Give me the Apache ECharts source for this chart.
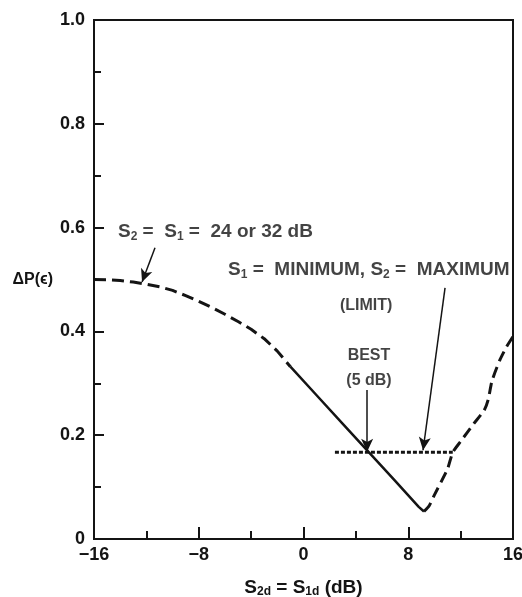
<!DOCTYPE html>
<html><head><meta charset="utf-8">
<script src="https://cdn.jsdelivr.net/npm/echarts@6/dist/echarts.min.js"></script>
<style>html,body{margin:0;padding:0;background:#fff}#c{width:522px;height:597px}</style>
</head><body><div id="c"></div>
<script>
// ---- data ----
const dashedLeftX = [-16,-15,-14,-13,-12,-11,-10,-9,-8,-7,-6,-5,-4,-3,-2,-1];
const dashedLeftY = [0.500,0.4995,0.498,0.495,0.491,0.486,0.479,0.469,0.458,0.446,0.433,0.419,0.404,0.386,0.362,0.332];
const solidX = [-1,1,3,5,7,8.8,9.2];
const solidY = [0.332,0.277,0.222,0.167,0.112,0.062,0.053];
const dashedRightX = [9.2,9.6,10,11,11.4,12,13,13.8,14.1,14.4,15,15.5,16];
const dashedRightY = [0.053,0.064,0.085,0.135,0.167,0.188,0.222,0.248,0.268,0.305,0.345,0.370,0.390];
const limitX = [2.4,11.4];
const limitY = [0.167,0.167];
const xTickLabels = ['−16','−8','0','8','16'];
const yTickLabels = ['0','0.2','0.4','0.6','0.8','1.0'];
const yAxisTitle = 'ΔP(ϵ)';
const xAxisTitle = '{n|S}{s|2d}{n| = S}{s|1d}{n| (dB)}';
// annotation texts and their anchor points (data units)
const noteTexts = ['{n|S}{s|2}{n| =  S}{s|1}{n| =  24 or 32 dB}', '{n|S}{s|1}{n| =  MINIMUM, S}{s|2}{n| =  MAXIMUM}', '{m|(LIMIT)}', '{m|BEST}', '{m|(5 dB)}'];
const noteX = [-14.17, -5.76, 4.78, 5.0, 5.0];
const noteY = [0.5915, 0.518, 0.450, 0.354, 0.306];
const noteAlign = ['left', 'left', 'center', 'center', 'center'];
// arrows: start and tip (data units)
const arrowStartX = [-11.34, 4.86, 10.81];
const arrowStartY = [0.561, 0.287, 0.484];
const arrowEndX = [-12.33, 4.86, 9.13];
const arrowEndY = [0.495, 0.168, 0.171];

const ink = '#141414';
const font = 'Liberation Sans, Arial, Helvetica, sans-serif';
const rich = {
  n: {fontSize: 19, fontWeight: 'bold', color: ink, fontFamily: font, textBorderWidth: 0},
  s: {fontSize: 12, fontWeight: 'bold', color: ink, fontFamily: font, padding: [9, 0, 0, 0], textBorderWidth: 0},
  m: {fontSize: 16, fontWeight: 'bold', color: ink, fontFamily: font, textBorderWidth: 0}
};
const zip = (a, b) => a.map((v, i) => [v, b[i]]);

const chart = echarts.init(document.getElementById('c'), null, {renderer: 'canvas'});
chart.setOption({
  backgroundColor: '#fff',
  animation: false,
  grid: {left: 94, right: 9, top: 20, bottom: 58, outerBoundsMode: 'none', containLabel: false,
         show: true, borderColor: ink, borderWidth: 2, backgroundColor: 'transparent'},
  xAxis: {
    type: 'value', min: -16, max: 16, interval: 8,
    name: xAxisTitle, nameLocation: 'middle', nameGap: 38,
    nameTextStyle: {rich: rich},
    axisLine: {show: true, onZero: false, lineStyle: {color: ink, width: 2}},
    axisTick: {show: true, inside: true, length: 12, lineStyle: {color: ink, width: 2}},
    minorTick: {show: true, splitNumber: 2, length: 8, lineStyle: {color: ink, width: 2}},
    splitLine: {show: false},
    axisLabel: {margin: 7, fontSize: 18, fontWeight: 'bold', color: ink, fontFamily: font,
      formatter: (v) => xTickLabels[[-16,-8,0,8,16].indexOf(v)]}
  },
  yAxis: {
    type: 'value', min: 0, max: 1, interval: 0.2,
    name: yAxisTitle, nameLocation: 'middle', nameGap: 41, nameRotate: 0,
    nameTextStyle: {fontSize: 16, fontWeight: 'bold', color: ink, fontFamily: font, align: 'right'},
    axisLine: {show: true, onZero: false, lineStyle: {color: ink, width: 2}},
    axisTick: {show: true, inside: true, length: 10, lineStyle: {color: ink, width: 2}},
    minorTick: {show: true, splitNumber: 2, length: 7, lineStyle: {color: ink, width: 2}},
    splitLine: {show: false},
    axisLabel: {margin: 9, fontSize: 18, fontWeight: 'bold', color: ink, fontFamily: font,
      formatter: (v) => yTickLabels[Math.round(v / 0.2)]}
  },
  series: [
    {type: 'line', data: zip(dashedLeftX, dashedLeftY), symbol: 'none', smooth: false,
     lineStyle: {color: ink, width: 3, type: [12, 6], join: 'round'}},
    {type: 'line', data: zip(solidX, solidY), symbol: 'none',
     lineStyle: {color: ink, width: 2.5, type: 'solid'}},
    {type: 'line', data: zip(dashedRightX, dashedRightY), symbol: 'none', smooth: 0.2,
     lineStyle: {color: ink, width: 3, type: [11, 6]}},
    {type: 'line', data: zip(limitX, limitY), symbol: 'none',
     lineStyle: {color: ink, width: 3, type: [4, 2]},
     markLine: {
       silent: true, symbol: ['none', 'arrow'], symbolSize: [9, 13], precision: 3,
       label: {show: false},
       lineStyle: {color: ink, width: 1.5, type: 'solid'},
       data: arrowStartX.map((x, i) => [{coord: [x, arrowStartY[i]]}, {coord: [arrowEndX[i], arrowEndY[i]]}])
     }},
    {type: 'scatter', symbolSize: 0, silent: true, itemStyle: {color: ink},
     data: noteTexts.map((t, i) => ({value: [noteX[i], noteY[i]],
       label: {show: true, position: 'inside', formatter: t, rich: rich, color: ink, textBorderWidth: 0,
               align: noteAlign[i], verticalAlign: 'middle'}}))}
  ]
});
</script></body></html>
